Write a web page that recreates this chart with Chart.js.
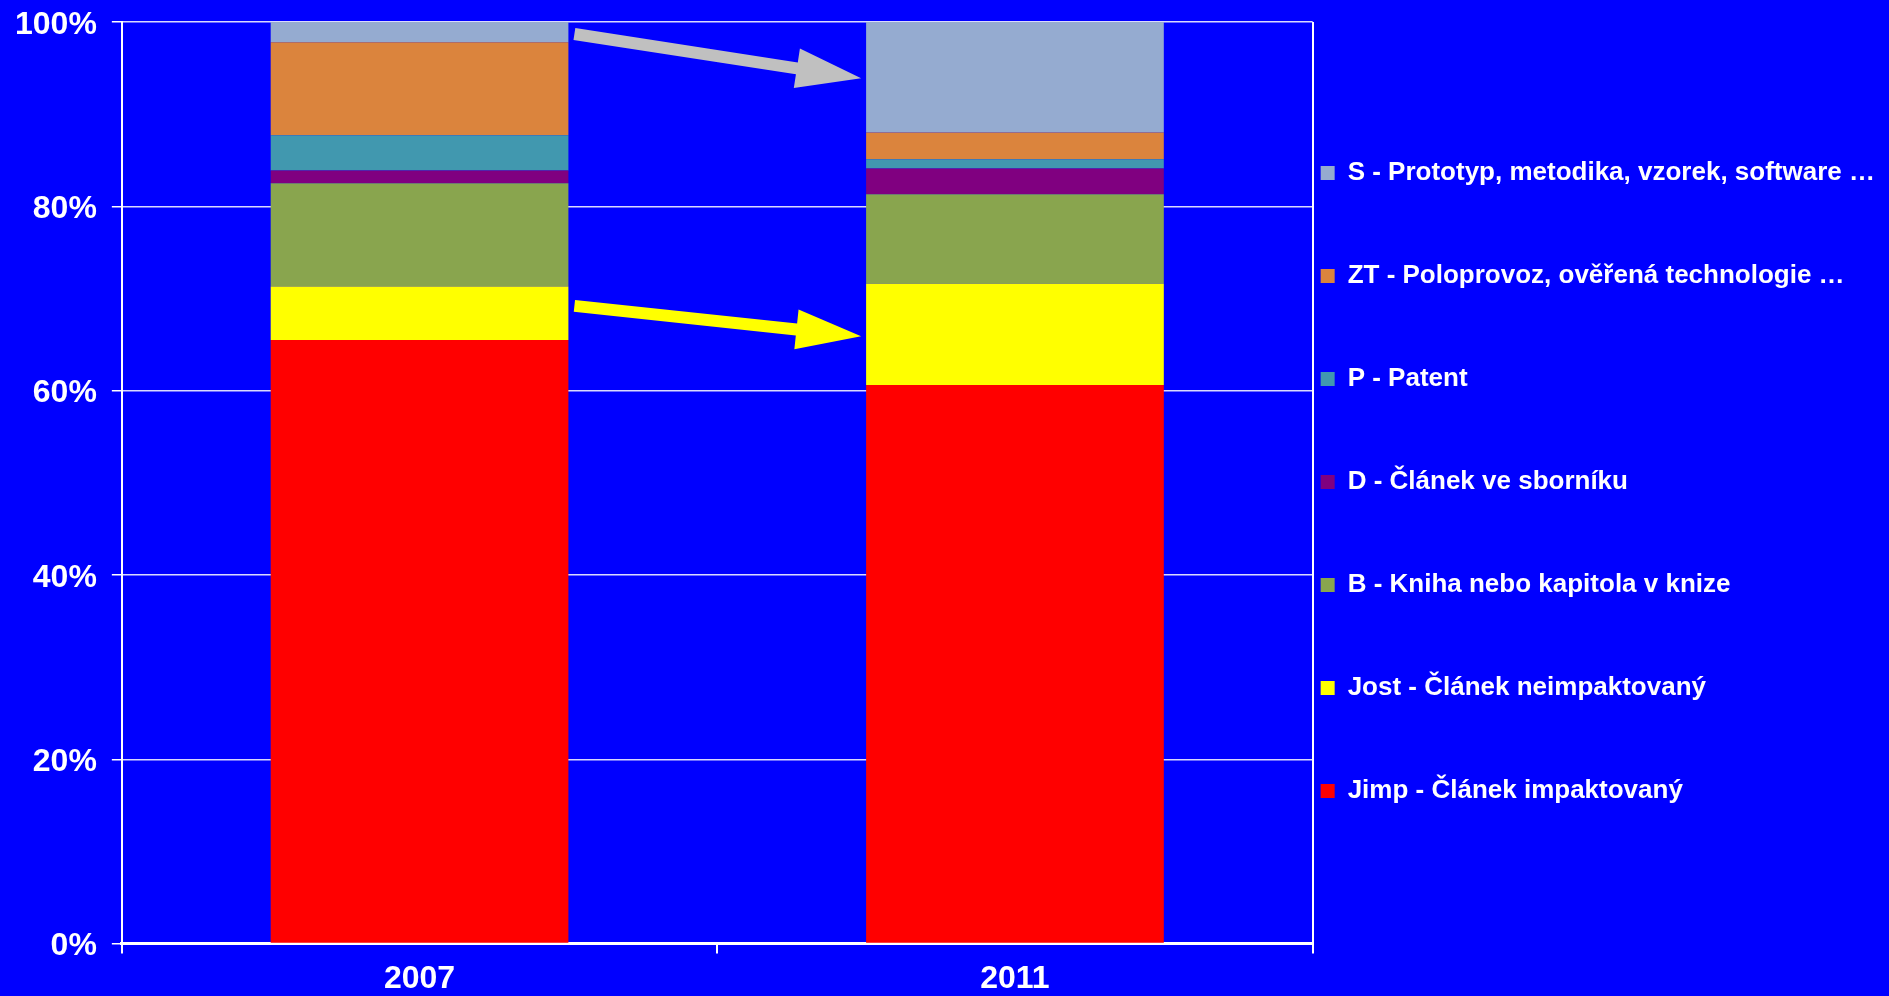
<!DOCTYPE html>
<html>
<head>
<meta charset="utf-8">
<title>Struktura výsledků 2007 / 2011</title>
<script src="https://cdn.jsdelivr.net/npm/chart.js@4/dist/chart.umd.min.js"></script>
<style>
  html, body { margin: 0; padding: 0; background: #0000ff; }
  canvas { display: block; background: #0000ff; }
</style>
</head>
<body>
<canvas id="resultChart" width="1889" height="996"></canvas>
<script>
// categories
var years = ['2007', '2011'];

// share of each result type in %, bottom of the stack first
var jimp = [65.5, 60.6];
var jost = [5.8, 11.0];
var kniha = [11.2, 9.7];
var sbornik = [1.4, 2.8];
var patent = [3.8, 1.0];
var poloprovoz = [10.1, 2.9];
var prototyp = [2.2, 12.0];

var seriesNames = [
  'Jimp - Článek impaktovaný',
  'Jost - Článek neimpaktovaný',
  'B - Kniha nebo kapitola v knize',
  'D - Článek ve sborníku',
  'P - Patent',
  'ZT - Poloprovoz, ověřená technologie …',
  'S - Prototyp, metodika, vzorek, software …'
];
var seriesColors = ['#ff0000', '#ffff00', '#89a54e', '#800080', '#4198af', '#db843d', '#95abd0'];

var yTicks = [0, 20, 40, 60, 80, 100];

// arrows between the bars: level (%) at the 2007 side and at the 2011 side
var arrowFrom = [98.7, 69.2];
var arrowTo = [93.9, 65.9];
var arrowColors = ['#c0c0c0', '#ffff00'];

var seriesValues = [jimp, jost, kniha, sbornik, patent, poloprovoz, prototyp];

var fontFamily = '"Liberation Sans", Arial, sans-serif';
Chart.defaults.font.family = fontFamily;
Chart.defaults.font.weight = 'bold';
Chart.defaults.color = '#ffffff';

function drawArrow(ctx, x1, y1, x2, y2, color) {
  var dx = x2 - x1, dy = y2 - y1;
  var len = Math.sqrt(dx * dx + dy * dy);
  var ux = dx / len, uy = dy / len;
  var nx = -uy, ny = ux;
  var shaft = 6, head = 20, headLen = 65;
  var bx = x2 - ux * headLen, by = y2 - uy * headLen;
  ctx.save();
  ctx.fillStyle = color;
  ctx.beginPath();
  ctx.moveTo(x1 + nx * shaft, y1 + ny * shaft);
  ctx.lineTo(bx + nx * shaft, by + ny * shaft);
  ctx.lineTo(bx + nx * head, by + ny * head);
  ctx.lineTo(x2, y2);
  ctx.lineTo(bx - nx * head, by - ny * head);
  ctx.lineTo(bx - nx * shaft, by - ny * shaft);
  ctx.lineTo(x1 - nx * shaft, y1 - ny * shaft);
  ctx.closePath();
  ctx.fill();
  ctx.restore();
}

var arrowPlugin = {
  id: 'arrows',
  afterDatasetsDraw: function(chart) {
    var y = chart.scales.y;
    var bars = chart.getDatasetMeta(0).data;
    var xStart = bars[0].x + bars[0].width / 2 + 6;
    var xEnd = bars[1].x - bars[1].width / 2 - 5;
    for (var i = 0; i < arrowFrom.length; i++) {
      drawArrow(chart.ctx, xStart, y.getPixelForValue(arrowFrom[i]), xEnd, y.getPixelForValue(arrowTo[i]), arrowColors[i]);
    }
  }
};

var datasets = seriesNames.map(function(name, i) {
  return {
    label: name,
    data: seriesValues[i],
    backgroundColor: seriesColors[i],
    borderWidth: 0,
    categoryPercentage: 1.0,
    barPercentage: 0.5
  };
});

var ctx = document.getElementById('resultChart');
var chart = new Chart(ctx, {
  type: 'bar',
  data: { labels: years, datasets: datasets },
  plugins: [arrowPlugin],
  options: {
    responsive: false,
    animation: false,
    layout: { padding: { left: 0, top: 22, right: 4, bottom: -8 } },
    plugins: {
      tooltip: { enabled: false },
      legend: {
        position: 'right',
        reverse: true,
        maxWidth: 576,
        // empty title, only pushes the items down a little
        title: { display: true, text: '', font: { size: 6, lineHeight: 1.2 }, padding: 0 },
        labels: {
          color: '#ffffff',
          font: { family: fontFamily, size: 26, weight: 'bold', lineHeight: '95px' },
          boxWidth: 14,
          boxHeight: 14,
          padding: 8,
          // wrap the text in an array so the item height follows the font line height
          generateLabels: function(chart) {
            var items = Chart.defaults.plugins.legend.labels.generateLabels(chart);
            items.forEach(function(item) {
              item.text = [item.text];
              item.lineWidth = 0;
            });
            return items;
          }
        }
      }
    },
    scales: {
      x: {
        stacked: true,
        grid: {
          offset: true,
          color: function(c) { return c.index === 1 ? 'rgba(0,0,0,0)' : '#ffffff'; },
          tickColor: '#ffffff',
          lineWidth: 2,
          tickLength: 10
        },
        border: { color: '#ffffff', width: 3 },
        ticks: { color: '#ffffff', font: { family: fontFamily, size: 32, weight: 'bold' }, padding: 6 }
      },
      y: {
        stacked: true,
        min: 0,
        max: 100,
        afterBuildTicks: function(axis) {
          axis.ticks = yTicks.map(function(v) { return { value: v }; });
        },
        // the top label may reach above the plot, the layout padding is enough
        afterFit: function(axis) {
          axis.paddingTop = 0;
        },
        grid: { color: 'rgba(255,255,255,0.85)', lineWidth: 1.5, tickLength: 10, tickColor: '#ffffff' },
        border: { color: '#ffffff', width: 2 },
        ticks: {
          color: '#ffffff',
          font: { family: fontFamily, size: 32, weight: 'bold' },
          padding: 15,
          labelOffset: 3,
          callback: function(v) { return v + '%'; }
        }
      }
    }
  }
});
</script>
</body>
</html>
